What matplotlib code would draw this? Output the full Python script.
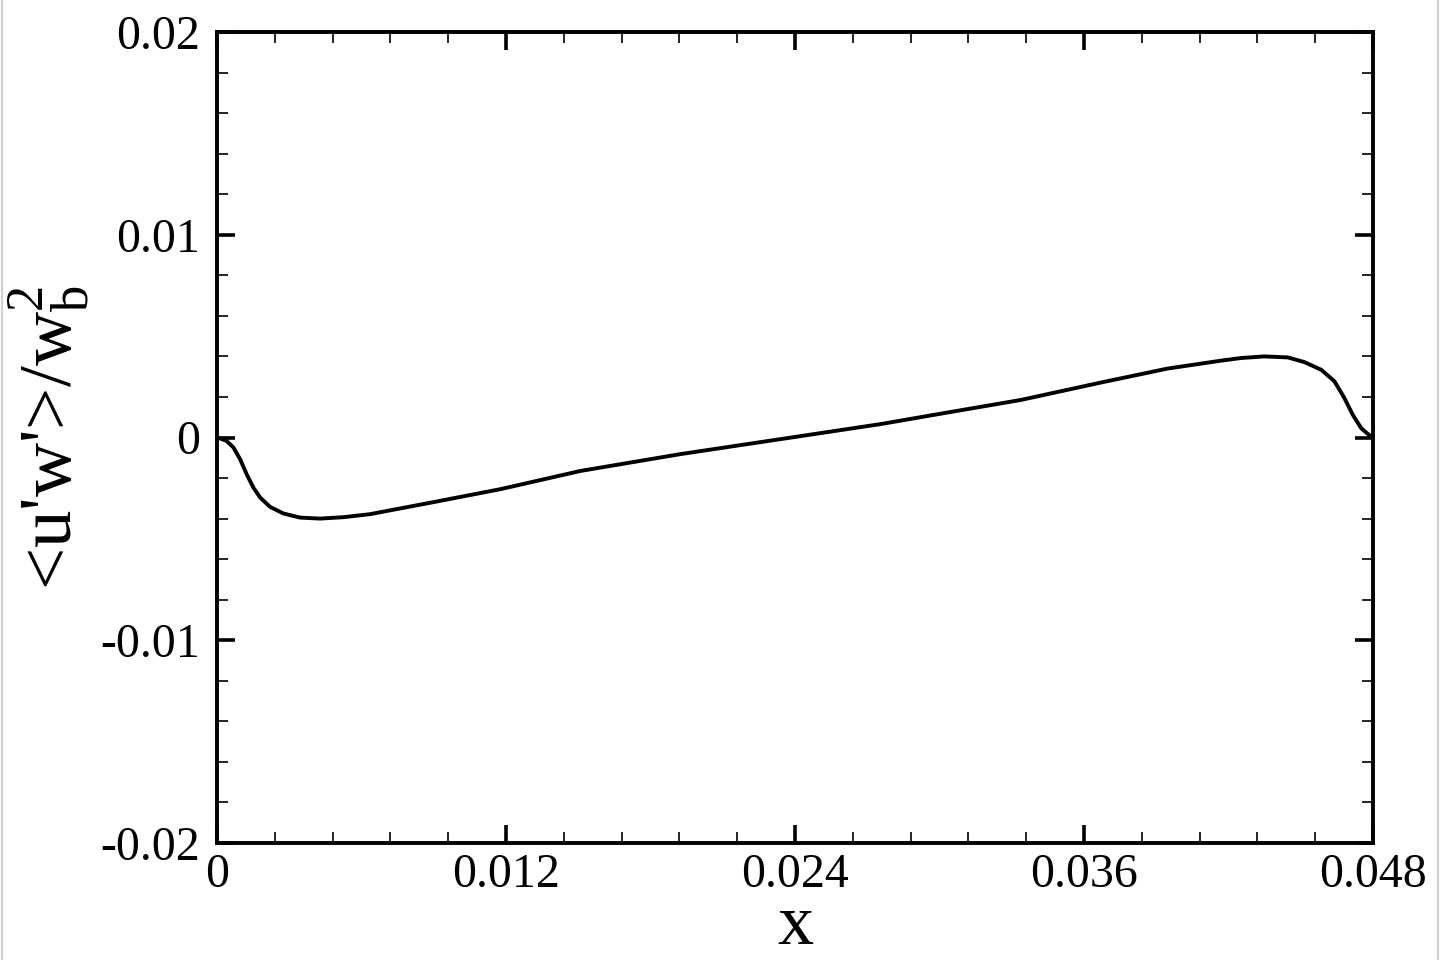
import matplotlib
matplotlib.use("Agg")
import matplotlib.pyplot as plt
from matplotlib.lines import Line2D
from matplotlib.ticker import MultipleLocator

plt.rcParams['font.family'] = ['Liberation Serif', 'DejaVu Serif']
plt.rcParams['mathtext.fontset'] = 'custom'
plt.rcParams['mathtext.rm'] = 'Liberation Serif'
plt.rcParams['mathtext.it'] = 'Liberation Serif'

x_vals = [0.0, 0.00012, 0.00040, 0.00068, 0.00096, 0.00123, 0.00151, 0.00179,
          0.00220, 0.00276, 0.00345, 0.00428, 0.00525, 0.00636, 0.00898,
          0.01176, 0.01509, 0.01924, 0.02340, 0.02755, 0.03032, 0.03337,
          0.03670, 0.03947, 0.04169, 0.04252, 0.04349, 0.04446, 0.04515,
          0.04585, 0.04640, 0.04681, 0.04716, 0.04751, 0.04778, 0.04800]
y_vals = [0.0, -0.00004, -0.00017, -0.00049, -0.00107, -0.00181, -0.00247, -0.00296,
          -0.00342, -0.00375, -0.00395, -0.00400, -0.00393, -0.00378, -0.00319,
          -0.00255, -0.00165, -0.00082, -0.00008, 0.00066, 0.00123, 0.00185,
          0.00271, 0.00340, 0.00379, 0.00392, 0.00400, 0.00395, 0.00372,
          0.00334, 0.00277, 0.00195, 0.00112, 0.00046, 0.00018, 0.0]

x_ticks = [0, 0.012, 0.024, 0.036, 0.048]
x_tick_labels = ["0", "0.012", "0.024", "0.036", "0.048"]
y_ticks = [-0.02, -0.01, 0, 0.01, 0.02]
y_tick_labels = ["-0.02", "-0.01", "0", "0.01", "0.02"]

fig = plt.figure(figsize=(14.4, 9.6), dpi=100)
ax = fig.add_axes([217/1440, 1 - 843/960, (1373-217)/1440, (843-32)/960])

ax.plot(x_vals, y_vals, color='black', lw=2.8, solid_joinstyle='round', solid_capstyle='round')

ax.set_xlim(0, 0.048)
ax.set_ylim(-0.02, 0.02)
ax.set_xticks(x_ticks)
ax.set_xticklabels(x_tick_labels)
ax.set_yticks(y_ticks)
ax.set_yticklabels(y_tick_labels)
ax.xaxis.set_minor_locator(MultipleLocator(0.0024))
ax.yaxis.set_minor_locator(MultipleLocator(0.002))

ax.tick_params(which='both', direction='in', top=True, right=True, labelsize=34.5)
ax.tick_params(which='major', length=13, width=2.6)
ax.tick_params(which='minor', length=8, width=1.2)
ax.tick_params(axis='x', which='major', pad=7)
ax.tick_params(axis='y', which='major', pad=12)
for s in ax.spines.values():
    s.set_linewidth(2.8)

ax.set_xlabel("x", fontsize=52, labelpad=-2)
ax.set_ylabel(r"<u'w'>/w$_\mathrm{b}^\mathrm{2}$", fontsize=54, labelpad=6)

fig.add_artist(Line2D([2/1440, 2/1440], [0, 1], color='#d0d0d0', lw=1.5, transform=fig.transFigure))
fig.add_artist(Line2D([1438/1440, 1438/1440], [0, 1], color='#d0d0d0', lw=1.5, transform=fig.transFigure))

fig.savefig("out.png", dpi=100)
